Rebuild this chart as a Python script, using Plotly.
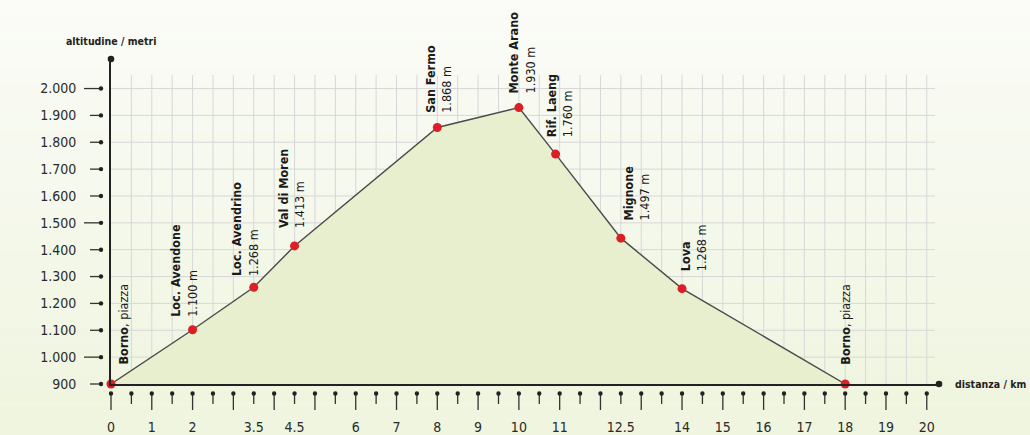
import numpy as np
import plotly.graph_objects as go

# ---------------- data ----------------
distance_km = [0, 2, 3.5, 4.5, 8, 10, 10.9, 12.5, 14, 18]
altitude_m = [900, 1102, 1260, 1414, 1855, 1929, 1756, 1443, 1255, 900]
point_names = ["Borno", "Loc. Avendone", "Loc. Avendrino", "Val di Moren", "San Fermo",
               "Monte Arano", "Rif. Laeng", "Mignone", "Lova", "Borno"]
point_notes = [", piazza", "1.100 m", "1.268 m", "1.413 m", "1.868 m",
               "1.930 m", "1.760 m", "1.497 m", "1.268 m", ", piazza"]

x_tickvals = [0, 1, 2, 3.5, 4.5, 6, 7, 8, 9, 10, 11, 12.5, 14, 15, 16, 17, 18, 19, 20]
x_ticktext = ["0", "1", "2", "3.5", "4.5", "6", "7", "8", "9", "10", "11", "12.5",
              "14", "15", "16", "17", "18", "19", "20"]
y_tickvals = [900, 1000, 1100, 1200, 1300, 1400, 1500, 1600, 1700, 1800, 1900, 2000]
y_ticktext = ["900", "1.000", "1.100", "1.200", "1.300", "1.400", "1.500", "1.600",
              "1.700", "1.800", "1.900", "2.000"]

# ---------------- style ----------------
FONT = "DejaVu Sans Condensed, Liberation Sans, sans-serif"
X_RANGE = [0, 20.3]
Y_RANGE = [900, 2110]
GRID_X_MAX = 20.2
GRID_Y_MAX = 2050
label_xshift = [12, -9, -9, -3, 1, 3, 4, 16, 11, 0]
label_yshift = [17, 11, 9, 16, 13, 12, 15, 16, 15, 17]

fig = go.Figure()

# background gradient (top -> bottom)
top = np.array([251, 252, 248])
bot = np.array([239, 245, 222])
n_bands = 30
shapes = []
for i in range(n_bands):
    t = i / (n_bands - 1)
    c = (top * (1 - t) + bot * t).astype(int)
    shapes.append(dict(type="rect", xref="paper", yref="paper", layer="below",
                       x0=-0.2, x1=1.2,
                       y0=1.2 - (i + 1) * (1.4 / n_bands), y1=1.2 - i * (1.4 / n_bands),
                       fillcolor=f"rgb({c[0]},{c[1]},{c[2]})", line=dict(width=0)))

# grid lines
gx, gy = [], []
for v in np.arange(0.5, 20.01, 0.5):
    gx += [v, v, None]
    gy += [Y_RANGE[0], GRID_Y_MAX, None]
for v in np.arange(1000, 2001, 100):
    gx += [0, GRID_X_MAX, None]
    gy += [v, v, None]
fig.add_trace(go.Scatter(x=gx, y=gy, mode="lines", line=dict(color="#d7d7d9", width=1),
                         hoverinfo="skip", showlegend=False))

# profile
fig.add_trace(go.Scatter(x=distance_km, y=altitude_m, mode="lines", fill="tozeroy",
                         fillcolor="#e7efcf", line=dict(color="#4a4a4a", width=1.4),
                         hoverinfo="skip", showlegend=False))
fig.add_trace(go.Scatter(x=distance_km, y=altitude_m, mode="markers", cliponaxis=False,
                         marker=dict(color="#dc1f26", size=9), showlegend=False))

# custom ticks (line + dot) in pixel offsets from axes
def xpaper(v):
    return (v - X_RANGE[0]) / (X_RANGE[1] - X_RANGE[0])

def ypaper(v):
    return (v - Y_RANGE[0]) / (Y_RANGE[1] - Y_RANGE[0])

for v in np.arange(0, 20.01, 0.5):
    long_tick = abs(v - round(v)) < 1e-9
    xa = xpaper(v)
    shapes.append(dict(type="line", xref="paper", yref="paper", xsizemode="pixel", ysizemode="pixel",
                       xanchor=xa, yanchor=0, x0=0, x1=0, y0=-9.5, y1=-26 if long_tick else -20,
                       line=dict(color="#333", width=1.3)))
    shapes.append(dict(type="circle", xref="paper", yref="paper", xsizemode="pixel", ysizemode="pixel",
                       xanchor=xa, yanchor=0, x0=-2.2, x1=2.2, y0=-11.7, y1=-7.3,
                       fillcolor="#222", line=dict(width=0)))
for v in y_tickvals:
    long_tick = v % 500 == 0
    ya = ypaper(v)
    shapes.append(dict(type="line", xref="paper", yref="paper", xsizemode="pixel", ysizemode="pixel",
                       xanchor=0, yanchor=ya, x0=-27 if long_tick else -21, x1=-10, y0=0, y1=0,
                       line=dict(color="#333", width=1.3)))
    shapes.append(dict(type="circle", xref="paper", yref="paper", xsizemode="pixel", ysizemode="pixel",
                       xanchor=0, yanchor=ya, x0=-12.2, x1=-7.8, y0=-2.2, y1=2.2,
                       fillcolor="#222", line=dict(width=0)))

# axis end dots
for xa, ya in [(1, 0), (0, 1)]:
    shapes.append(dict(type="circle", xref="paper", yref="paper", xsizemode="pixel", ysizemode="pixel",
                       xanchor=xa, yanchor=ya, x0=-3.3, x1=3.3, y0=-3.3, y1=3.3,
                       fillcolor="#222", line=dict(width=0)))

# point labels
annotations = []
for i, (xv, yv, nm, note) in enumerate(zip(distance_km, altitude_m, point_names, point_notes)):
    if note.startswith(","):
        txt = f"<b>{nm}</b>{note}"
    else:
        txt = f"<b>{nm}</b><br>{note}"
    annotations.append(dict(x=xv, y=yv, xref="x", yref="y", text=txt, showarrow=False,
                            textangle=-90, align="left", xanchor="center", yanchor="bottom",
                            xshift=label_xshift[i], yshift=label_yshift[i],
                            font=dict(family=FONT, size=12.5, color="#1a1a1a")))

annotations.append(dict(x=0, y=1, xref="paper", yref="paper", text="<b>altitudine / metri</b>",
                        showarrow=False, xanchor="center", yanchor="bottom", yshift=10,
                        font=dict(family=FONT, size=10.5, color="#222")))
annotations.append(dict(x=1, y=0, xref="paper", yref="paper", text="<b>distanza / km</b>",
                        showarrow=False, xanchor="left", yanchor="middle", xshift=14,
                        font=dict(family=FONT, size=10.5, color="#222")))

fig.update_layout(
    width=1030, height=435,
    margin=dict(l=111, r=91, t=59, b=51, autoexpand=False),
    paper_bgcolor="rgb(251,252,248)",
    plot_bgcolor="rgba(0,0,0,0)",
    font=dict(family=FONT, size=14, color="#2a2a2a"),
    shapes=shapes,
    annotations=annotations,
    showlegend=False,
    xaxis=dict(range=X_RANGE, showgrid=False, zeroline=False, showline=True, automargin=False,
               linecolor="#222", linewidth=2, tickmode="array", tickvals=x_tickvals,
               ticktext=x_ticktext, ticks="", ticklabelstandoff=29,
               tickfont=dict(family=FONT, size=14, color="#2a2a2a")),
    yaxis=dict(range=Y_RANGE, showgrid=False, zeroline=False, showline=True, automargin=False,
               linecolor="#222", linewidth=2, tickmode="array", tickvals=y_tickvals,
               ticktext=y_ticktext, ticks="", ticklabelstandoff=30,
               tickfont=dict(family=FONT, size=14, color="#2a2a2a")),
)

fig.write_html("out.html", config={"displayModeBar": False},
               post_script="document.body.style.margin='0';document.body.style.overflow='hidden';")
